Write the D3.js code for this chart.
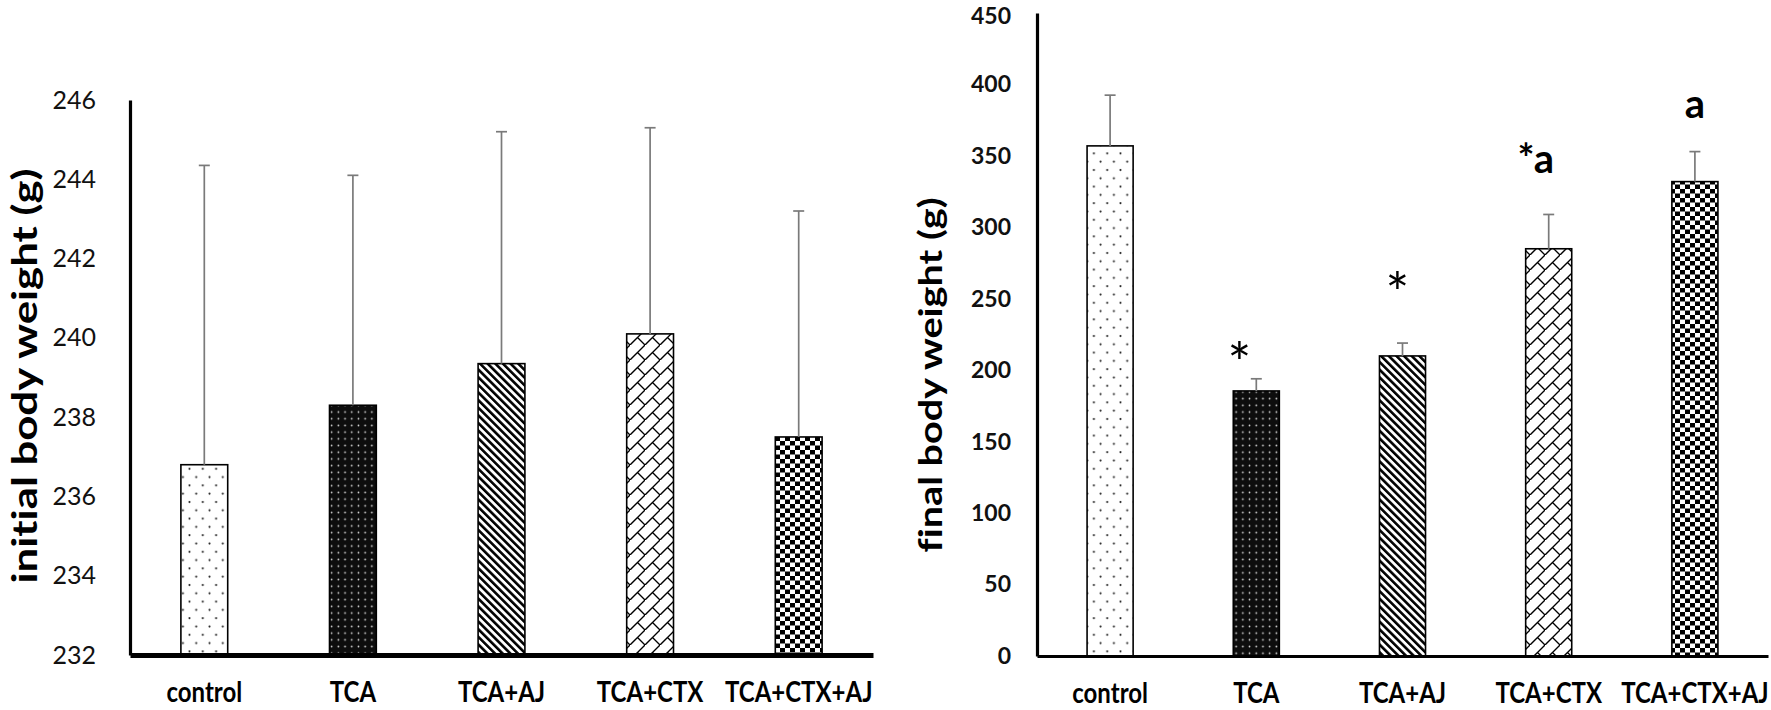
<!DOCTYPE html>
<html>
<head>
<meta charset="utf-8">
<script src="https://cdn.jsdelivr.net/npm/d3@7"></script>
<style>
  html, body { margin: 0; padding: 0; background: #fff; }
  svg { display: block; }
  text { font-variant-ligatures: none; }
</style>
</head>
<body>
<script>
// ---------------- data ----------------
const categories = ["control", "TCA", "TCA+AJ", "TCA+CTX", "TCA+CTX+AJ"];
const initialMeans = [236.8, 238.3, 239.35, 240.1, 237.5];
const initialErrors = [7.55, 5.8, 5.85, 5.2, 5.7];
const initialTicks = [232, 234, 236, 238, 240, 242, 244, 246];
const finalMeans = [357, 185.5, 210, 285, 332];
const finalErrors = [35.5, 8.5, 9, 24, 21];
const finalTicks = [0, 50, 100, 150, 200, 250, 300, 350, 400, 450];
const finalMarks = ["", "*", "*", "*a", "a"];
const finalMarkLevels = [0, 213, 262, 345, 384];
const patternIds = ["pDots", "pDark", "pStripe", "pBrick", "pCheck"];

// ---------------- setup ----------------
const W = 1771, H = 710;
const svg = d3.select("body").append("svg").attr("width", W).attr("height", H);
svg.append("rect").attr("width", W).attr("height", H).attr("fill", "#fff");
const FONT = "Lato, 'Open Sans', sans-serif";

// patterns
const defs = svg.append("defs");
(function () {
  let p = defs.append("pattern").attr("id", "pDots").attr("patternUnits", "userSpaceOnUse")
    .attr("width", 13.3).attr("height", 16.6);
  p.append("rect").attr("width", 13.3).attr("height", 16.6).attr("fill", "#fff");
  p.append("circle").attr("cx", 3.3).attr("cy", 4).attr("r", 1.05).attr("fill", "#222");
  p.append("circle").attr("cx", 10).attr("cy", 12.3).attr("r", 1.05).attr("fill", "#222");

  p = defs.append("pattern").attr("id", "pDark").attr("patternUnits", "userSpaceOnUse")
    .attr("width", 6.7).attr("height", 6.7);
  p.append("rect").attr("width", 6.7).attr("height", 6.7).attr("fill", "#0d0d0d");
  p.append("circle").attr("cx", 3.35).attr("cy", 3.35).attr("r", 0.85).attr("fill", "#ddd");

  p = defs.append("pattern").attr("id", "pStripe").attr("patternUnits", "userSpaceOnUse")
    .attr("width", 5.4).attr("height", 10).attr("patternTransform", "rotate(-45)");
  p.append("rect").attr("width", 5.4).attr("height", 10).attr("fill", "#fff");
  p.append("rect").attr("width", 2.6).attr("height", 10).attr("fill", "#000");

  p = defs.append("pattern").attr("id", "pBrick").attr("patternUnits", "userSpaceOnUse")
    .attr("width", 15).attr("height", 15);
  p.append("rect").attr("width", 15).attr("height", 15).attr("fill", "#fff");
  p.append("path").attr("d", "M-1,16 L16,-1 M7.5,7.5 L16,16")
    .attr("stroke", "#000").attr("stroke-width", 1.4).attr("fill", "none");

  p = defs.append("pattern").attr("id", "pCheck").attr("patternUnits", "userSpaceOnUse")
    .attr("width", 10).attr("height", 9);
  p.append("rect").attr("width", 10).attr("height", 9).attr("fill", "#fff");
  p.append("rect").attr("x", 0).attr("y", 0).attr("width", 5).attr("height", 4.5).attr("fill", "#000");
  p.append("rect").attr("x", 5).attr("y", 4.5).attr("width", 5).attr("height", 4.5).attr("fill", "#000");
})();

function drawPanel(cfg) {
  const g = svg.append("g");
  const x = d3.scaleBand().domain(categories).range([cfg.x0, cfg.x1])
    .paddingInner(0.685).paddingOuter(0.3425);
  const y = d3.scaleLinear().domain(cfg.domain).range([cfg.y0, cfg.y1]);

  // bars
  g.selectAll("rect.bar").data(cfg.means).join("rect").attr("class", "bar")
    .attr("x", (d, i) => x(categories[i]))
    .attr("width", x.bandwidth())
    .attr("y", d => y(d))
    .attr("height", d => y(cfg.domain[0]) - y(d))
    .attr("fill", (d, i) => `url(#${patternIds[i]})`)
    .attr("stroke", "#000").attr("stroke-width", 1.6);

  // error bars
  const cx = i => x(categories[i]) + x.bandwidth() / 2;
  const eg = g.append("g").attr("stroke", "#7a7a7a").attr("stroke-width", 1.7).attr("fill", "none");
  cfg.means.forEach((m, i) => {
    const top = y(m + cfg.errors[i]);
    eg.append("line").attr("x1", cx(i)).attr("x2", cx(i)).attr("y1", y(m)).attr("y2", top);
    eg.append("line").attr("x1", cx(i) - 5.5).attr("x2", cx(i) + 5.5).attr("y1", top).attr("y2", top);
  });

  // y axis
  const ya = g.append("g").attr("transform", `translate(${cfg.x0},0)`)
    .call(d3.axisLeft(y).tickValues(cfg.ticks).tickSize(0).tickPadding(cfg.tickPad).tickSizeOuter(0));
  ya.select(".domain").attr("stroke", "#000").attr("stroke-width", 3.2);
  ya.selectAll("text").attr("font-family", FONT).attr("font-size", cfg.tickFont)
    .attr("font-weight", cfg.tickWeight).attr("fill", "#111");
  if (cfg.nudgeTop) {
    ya.selectAll(".tick").filter(d => d === cfg.domain[1]).select("text").attr("dy", "0.45em");
  }

  // x axis
  const xa = g.append("g").attr("transform", `translate(0,${cfg.y0})`)
    .call(d3.axisBottom(x).tickSize(0).tickSizeOuter(0));
  xa.select(".domain").attr("stroke", "#000").attr("stroke-width", cfg.xAxisWidth);
  const sy = 1.2;
  xa.selectAll("text").attr("font-family", FONT).attr("font-size", 24)
    .attr("font-weight", 700).attr("fill", "#000")
    .attr("dy", 0).attr("y", 47 / sy).attr("transform", `scale(1,${sy})`);

  // y title
  g.append("text")
    .attr("transform", `translate(${cfg.titleX},${cfg.titleY}) rotate(-90) scale(${cfg.titleStretch},1)`)
    .attr("text-anchor", "middle").attr("dominant-baseline", "central")
    .attr("font-family", FONT).attr("font-size", cfg.titleFont).attr("font-weight", 700)
    .attr("fill", "#000").text(cfg.title);

  return { x, y, cx, g };
}

drawPanel({
  x0: 130, x1: 873, y0: 655, y1: 100, domain: [232, 246],
  means: initialMeans, errors: initialErrors, ticks: initialTicks,
  tickPad: 34, tickFont: 25, tickWeight: 400, xAxisWidth: 5,
  title: "initial body weight (g)", titleX: 23, titleY: 376, titleFont: 35, titleStretch: 1.25
});

const right = drawPanel({
  x0: 1037, x1: 1768, y0: 656, y1: 13, domain: [0, 450],
  means: finalMeans, errors: finalErrors, ticks: finalTicks,
  tickPad: 26, tickFont: 23, tickWeight: 700, xAxisWidth: 3.2, nudgeTop: true,
  title: "final body weight (g)", titleX: 929, titleY: 375, titleFont: 33, titleStretch: 1.2
});

// significance marks
const markDx = [0, -17, -5, -13, 0];
finalMarks.forEach((m, i) => {
  if (!m) return;
  const star = m === "*";
  const fs = star ? 56 : 40;
  right.g.append("text")
    .attr("x", right.cx(i) + markDx[i])
    .attr("y", right.y(finalMarkLevels[i]) + (star ? 0.56 * fs : 0.26 * fs))
    .attr("text-anchor", "middle")
    .attr("font-family", FONT)
    .attr("font-size", fs)
    .attr("font-weight", star ? 400 : 700)
    .attr("fill", "#000")
    .text(m);
});
</script>
</body>
</html>
